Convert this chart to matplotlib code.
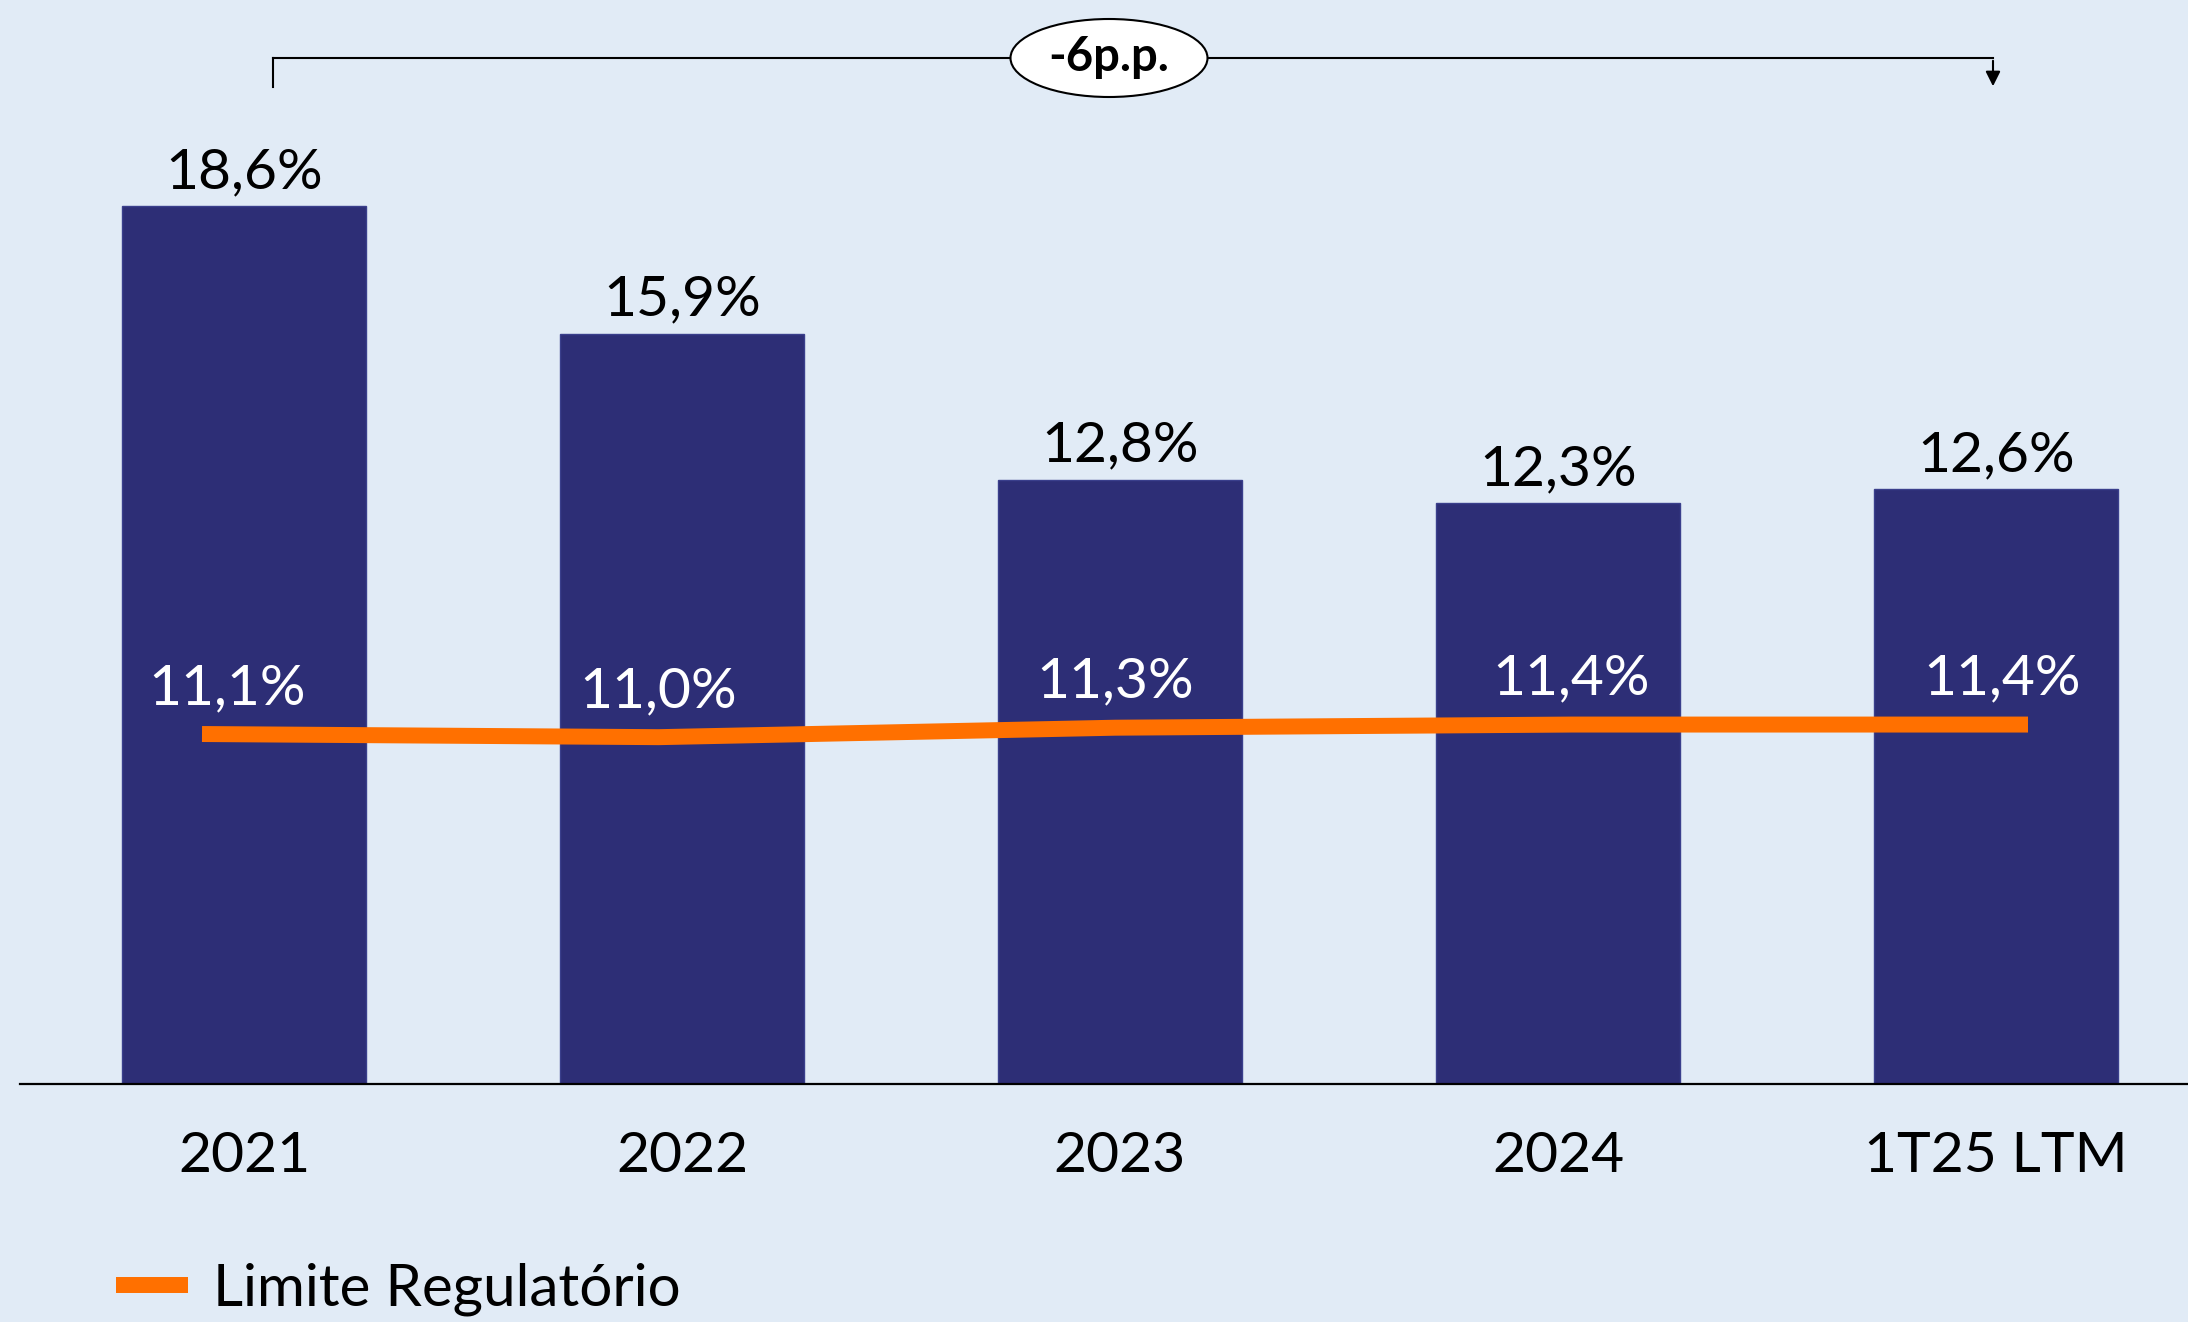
import matplotlib
matplotlib.use('Agg')
import matplotlib.pyplot as plt
from matplotlib.patches import Ellipse, FancyArrowPatch
from matplotlib.lines import Line2D

categories = ['2021', '2022', '2023', '2024', '1T25 LTM']
bar_values = [18.6, 15.9, 12.8, 12.3, 12.6]
line_values = [11.1, 11.0, 11.3, 11.4, 11.4]
line_name = 'Limite Regulatório'
change_label = '-6p.p.'


def fmt(v):
    return f"{v:.1f}%".replace('.', ',')


plt.rcParams['font.family'] = ['Lato', 'DejaVu Sans']

W, H = 2188, 1322
DPI = 100
BG = '#E1EBF6'
BAR = '#2D2E76'
ORANGE = '#FF7000'
FS = 41

fig = plt.figure(figsize=(W / DPI, H / DPI), dpi=DPI, facecolor=BG)

left_px, base_px = 20, 1084
rect = [left_px / W, (H - base_px) / H, (W - left_px) / W, base_px / H]

# bars
ax = fig.add_axes(rect)
ax.set_facecolor(BG)
xs = list(range(len(categories)))
ax.bar(xs, bar_values, width=0.555, color=BAR, edgecolor='#3A3F8C',
       linewidth=1, zorder=2)
ax.set_xlim((left_px - 244) / 438, (W - 244) / 438)
ax.set_ylim(0, base_px / 47.2)
for s in ['top', 'right', 'left']:
    ax.spines[s].set_visible(False)
ax.spines['bottom'].set_linewidth(1.6)
ax.spines['bottom'].set_color('black')
ax.set_yticks([])
ax.set_xticks(xs, categories)
ax.tick_params(axis='x', length=0, pad=63, labelsize=FS)
for lbl in ax.get_xticklabels():
    lbl.set_va('baseline')
for i, v in enumerate(bar_values):
    ax.annotate(fmt(v), (i, v), xytext=(0, 13), textcoords='offset points',
                ha='center', va='baseline', fontsize=FS, color='black')

# line (secondary scale)
ax2 = fig.add_axes(rect)
ax2.patch.set_alpha(0)
ax2.axis('off')
ax2.set_xlim((left_px - 202) / 456.5, (W - 202) / 456.5)
ax2.set_ylim(0, base_px / 31.53)
ax2.plot(xs, line_values, color=ORANGE, lw=11.5, solid_capstyle='butt',
         label=line_name, zorder=3)
n = len(line_values)
for i, v in enumerate(line_values):
    dx = 18 if i == 0 else (-19 if i == n - 1 else 0)
    ax2.annotate(fmt(v), (i, v), xytext=(dx, 21.5), textcoords='offset points',
                 ha='center', va='baseline', fontsize=FS, color='white')

fig.legend(handles=ax2.get_lines(), loc='center left',
           bbox_to_anchor=(116 / W, (H - 1289) / H), frameon=False,
           fontsize=42, handlelength=1.23, handletextpad=0.43,
           borderpad=0, borderaxespad=0)

# bracket annotation
def P(x, y):
    return (x / W, 1 - y / H)

y0, y1 = 58, 87
fig.add_artist(Line2D([273 / W, 1993 / W], [1 - y0 / H] * 2, color='black',
                      lw=1.5, transform=fig.transFigure))
fig.add_artist(Line2D([273 / W] * 2, [1 - y0 / H, 1 - y1 / H], color='black',
                      lw=1.5, transform=fig.transFigure))
fig.add_artist(FancyArrowPatch(P(1993, y0), P(1993, y1 + 2),
                               transform=fig.transFigure, arrowstyle='-|>',
                               mutation_scale=22, lw=1.5, color='black'))
fig.add_artist(Ellipse(P(1109, y0), 197 / W, 78 / H, transform=fig.transFigure,
                       facecolor='white', edgecolor='black', lw=1.5, zorder=5))
fig.text(*P(1109, y0 - 1), change_label, ha='center', va='center',
         fontsize=34, fontweight='bold', color='black', zorder=6)

fig.savefig('out.png', dpi=DPI, facecolor=BG)
